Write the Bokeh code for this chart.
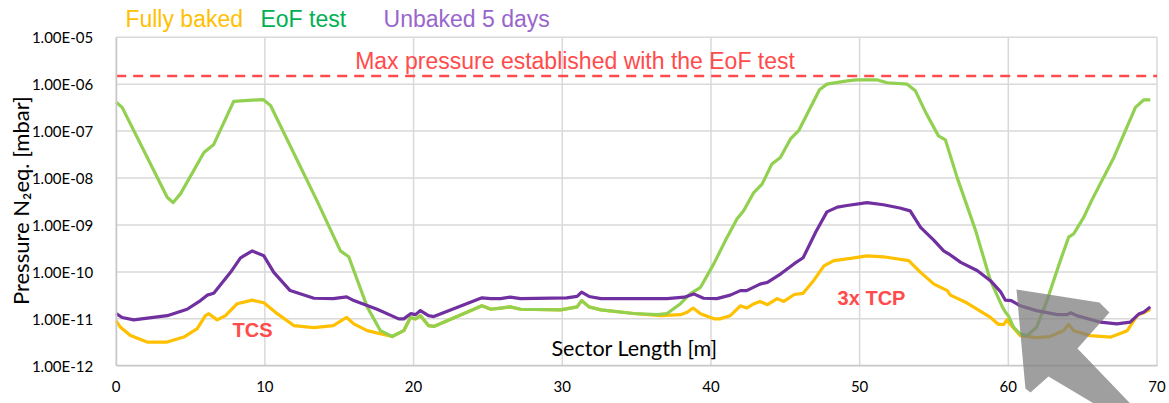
import math
from bokeh.plotting import figure
from bokeh.models import (FixedTicker, CustomJSTickFormatter, Label, PolyAnnotation, Range1d)
from bokeh.embed import file_html
from bokeh.resources import INLINE

# ---------------- data ----------------
series_names = ["Fully baked", "EoF test", "Unbaked 5 days"]

eof_x = [0.0, 0.4, 3.43, 3.83, 4.32, 5.9, 6.56, 7.9, 9.88, 10.38, 13.5, 15.08, 15.64,
         16.88, 17.77, 18.56, 19.34, 19.79, 20.13, 20.46, 21.0, 21.36, 24.6, 25.2,
         25.85, 26.5, 27.2, 29.9, 31.0, 31.3, 31.8, 32.6, 34.8, 36.4, 37.05, 37.95,
         38.6, 39.3, 40.2, 40.98, 41.76, 42.2, 42.88, 43.44, 44.1, 44.67, 45.35, 45.9,
         47.3, 47.8, 49.16, 49.8, 51.2, 51.85, 53.2, 53.75, 54.5, 55.3, 55.77, 56.56,
         57.1, 57.8, 58.8, 59.6, 59.8, 60.0, 60.36, 60.8, 61.26, 61.9, 62.6, 63.5,
         64.06, 64.4, 65.07, 65.6, 67.1, 68.55, 69.1, 69.55]
eof_p = [4.1e-7, 3.2e-7, 3.9e-9, 3.0e-9, 4.6e-9, 3.5e-8, 5.2e-8, 4.3e-7, 4.7e-7, 3.5e-7,
         3.3e-9, 2.8e-10, 2.1e-10, 1.8e-11, 5.6e-12, 4.2e-12, 5.6e-12, 1.07e-11, 1.0e-11,
         1.17e-11, 7.2e-12, 6.9e-12, 1.9e-11, 1.6e-11, 1.7e-11, 1.8e-11, 1.6e-11,
         1.55e-11, 1.8e-11, 2.45e-11, 1.8e-11, 1.55e-11, 1.3e-11, 1.23e-11, 1.3e-11,
         2.1e-11, 3.4e-11, 4.7e-11, 1.5e-10, 4.7e-10, 1.35e-9, 2.0e-9, 4.9e-9, 7.4e-9,
         2.0e-8, 2.75e-8, 6.8e-8, 1.02e-7, 7.6e-7, 1.0e-6, 1.17e-6, 1.23e-6, 1.23e-6,
         1.07e-6, 1.0e-6, 7.2e-7, 2.3e-7, 7.9e-8, 6.5e-8, 1.02e-8, 3.3e-9, 7.6e-10,
         6.5e-11, 1.8e-11, 1.4e-11, 1.17e-11, 6.6e-12, 4.8e-12, 4.4e-12, 6.6e-12,
         2.45e-11, 1.74e-10, 5.5e-10, 6.5e-10, 1.45e-9, 3.3e-9, 2.75e-8, 3.2e-7,
         4.6e-7, 4.6e-7]

unbaked_x = [0.0, 0.4, 1.18, 3.43, 4.77, 5.67, 6.12, 6.56, 7.69, 8.36, 9.15, 9.93, 10.6,
             11.7, 13.3, 14.6, 15.5, 15.98, 17.55, 19.0, 19.34, 19.8, 20.13, 20.46,
             21.0, 21.36, 24.6, 25.2, 25.85, 26.5, 27.2, 30.3, 31.0, 31.3, 31.8, 32.6,
             37.05, 38.2, 38.84, 39.5, 40.4, 41.3, 41.98, 42.4, 43.3, 43.8, 44.7, 45.6,
             46.2, 47.05, 47.8, 48.5, 49.16, 50.5, 51.6, 52.7, 53.4, 54.1, 55.0, 55.65,
             56.1, 56.8, 57.9, 58.8, 59.5, 59.8, 60.2, 60.8, 61.9, 63.3, 63.95, 64.2,
             64.6, 66.2, 67.3, 68.2, 68.8, 69.1, 69.55]
unbaked_p = [1.29e-11, 1.07e-11, 9.5e-12, 1.17e-11, 1.6e-11, 2.45e-11, 3.2e-11, 3.5e-11,
             9.8e-11, 2.0e-10, 2.8e-10, 2.2e-10, 9.8e-11, 4.0e-11, 2.75e-11, 2.7e-11,
             2.95e-11, 2.45e-11, 1.6e-11, 1.0e-11, 1.0e-11, 1.29e-11, 1.23e-11, 1.5e-11,
             1.17e-11, 1.12e-11, 2.8e-11, 2.7e-11, 2.7e-11, 2.9e-11, 2.7e-11, 2.8e-11,
             3.0e-11, 3.7e-11, 3.0e-11, 2.7e-11, 2.7e-11, 2.9e-11, 3.4e-11, 2.75e-11,
             2.7e-11, 3.2e-11, 4.0e-11, 4.0e-11, 5.5e-11, 6.0e-11, 9.1e-11, 1.5e-10,
             2.0e-10, 7.1e-10, 1.9e-9, 2.4e-9, 2.6e-9, 3.0e-9, 2.7e-9, 2.3e-9, 2.0e-9,
             8.9e-10, 4.7e-10, 2.8e-10, 2.3e-10, 1.6e-10, 1.07e-10, 6.5e-11, 3.7e-11,
             2.5e-11, 2.45e-11, 1.9e-11, 1.5e-11, 1.23e-11, 1.23e-11, 1.35e-11, 1.17e-11,
             8.5e-12, 7.8e-12, 8.5e-12, 1.29e-11, 1.38e-11, 1.8e-11]

baked_x = [0.0, 0.29, 0.96, 2.08, 3.43, 4.55, 5.45, 6.0, 6.23, 6.79, 7.35, 8.14, 9.15,
           9.93, 10.83, 11.94, 13.3, 14.6, 15.5, 15.98, 16.88, 18.56, 19.34, 19.79,
           20.13, 20.46, 21.0, 21.36, 24.6, 25.2, 25.85, 26.5, 27.2, 29.9, 31.0, 31.3,
           31.8, 32.6, 34.8, 36.6, 37.95, 38.4, 38.8, 39.3, 40.2, 40.6, 41.3, 41.98,
           42.4, 42.9, 43.3, 43.8, 44.45, 44.9, 45.6, 46.2, 46.9, 47.6, 48.26, 49.4,
           50.5, 51.6, 53.3, 54.1, 55.0, 55.9, 56.1, 57.2, 58.8, 59.35, 59.7, 59.9,
           60.2, 60.8, 61.9, 62.8, 63.7, 64.06, 64.4, 65.5, 66.9, 68.0, 68.66, 69.1, 69.55]
baked_p = [9.1e-12, 6.6e-12, 4.4e-12, 3.2e-12, 3.2e-12, 4.1e-12, 6.2e-12, 1.17e-11,
           1.29e-11, 9.5e-12, 1.17e-11, 2.1e-11, 2.5e-11, 2.2e-11, 1.29e-11, 7.2e-12,
           6.5e-12, 7.2e-12, 1.07e-11, 7.8e-12, 5.6e-12, 4.2e-12, 5.6e-12, 1.07e-11,
           1.0e-11, 1.17e-11, 7.2e-12, 6.9e-12, 1.9e-11, 1.6e-11, 1.7e-11, 1.8e-11,
           1.6e-11, 1.55e-11, 1.8e-11, 2.45e-11, 1.8e-11, 1.55e-11, 1.3e-11, 1.17e-11,
           1.23e-11, 1.38e-11, 1.7e-11, 1.29e-11, 1.0e-11, 1.0e-11, 1.17e-11, 1.9e-11,
           1.7e-11, 2.1e-11, 2.35e-11, 2.0e-11, 2.7e-11, 2.35e-11, 3.3e-11, 3.5e-11,
           6.5e-11, 1.35e-10, 1.74e-10, 1.95e-10, 2.2e-10, 2.1e-10, 1.74e-10, 9.8e-11,
           5.5e-11, 4.0e-11, 3.2e-11, 2.2e-11, 1.07e-11, 7.6e-12, 7.6e-12, 9.5e-12,
           7.2e-12, 4.4e-12, 4.0e-12, 4.2e-12, 5.6e-12, 7.6e-12, 5.6e-12, 4.4e-12,
           4.1e-12, 5.6e-12, 1.17e-11, 1.35e-11, 1.6e-11]

max_pressure = 1.5e-6
x_ticks = [0, 10, 20, 30, 40, 50, 60, 70]
y_ticks = [1e-12, 1e-11, 1e-10, 1e-9, 1e-8, 1e-7, 1e-6, 1e-5]
max_label = "Max pressure established with the EoF test"
x_title = "Sector Length [m]"
y_title = "Pressure N\u2082eq. [mbar]"
annotations = ["TCS", "3x TCP"]

# decorative grey pointer arrow (x in m, y in mbar)
arrow_x = [60.55, 61.15, 61.49, 62.70, 66.8, 68.8, 64.65, 66.80, 66.13]
arrow_y = [4.2e-11, 3.3e-13, 2.7e-13, 5.9e-13, 1.0e-13, 1.0e-13, 2.33e-12, 1.36e-11, 2.22e-11]

# ---------------- styling ----------------
YELLOW = "#FFC000"
GREEN = "#92D050"
PURPLE = "#7030A0"
RED = "#FF4B4B"
GRID = "#D9D9D9"
CAL = "Lato"
ARIAL = "Liberation Sans"

W, H = 1169, 403
# plot area (pixels) inside the canvas
PL, PR, PT, PB = 115.7, 1156.5, 36.7, 365.3
xs_per_px = (x_ticks[-1] - x_ticks[0]) / (PR - PL)
dec_per_px = (math.log10(y_ticks[-1]) - math.log10(y_ticks[0])) / (PB - PT)
x0 = x_ticks[0] - PL * xs_per_px
x1 = x_ticks[-1] + (W - PR) * xs_per_px
ly_top = math.log10(y_ticks[-1]) + PT * dec_per_px
ly_bot = math.log10(y_ticks[0]) - (H - PB) * dec_per_px

p = figure(width=W, height=H, y_axis_type="log",
           x_range=Range1d(x0, x1), y_range=Range1d(10 ** ly_bot, 10 ** ly_top),
           output_backend="svg", toolbar_location=None,
           min_border_left=0, min_border_right=0, min_border_top=0, min_border_bottom=0)
p.title.visible = False
p.background_fill_color = "white"
p.border_fill_color = "white"
p.outline_line_color = None
p.xgrid.visible = False
p.ygrid.visible = False

p.xaxis.ticker = FixedTicker(ticks=x_ticks)
p.yaxis.ticker = FixedTicker(ticks=y_ticks)
p.yaxis.formatter = CustomJSTickFormatter(code="""
const s = tick.toExponential(2).toUpperCase();
return s.replace(/E([+-])(\\d)$/, "E$10$2");
""")
p.xaxis.fixed_location = y_ticks[0]
p.yaxis.fixed_location = x_ticks[0]
p.xaxis.bounds = (x_ticks[0], x_ticks[-1])
p.yaxis.bounds = (y_ticks[0], y_ticks[-1])
for ax in (p.xaxis, p.yaxis):
    ax.axis_line_color = "#C8C8C8"
    ax.axis_line_width = 1.5
    ax.major_tick_line_color = None
    ax.minor_tick_line_color = None
    ax.major_tick_out = 0
    ax.major_tick_in = 0
    ax.major_label_text_font = CAL
    ax.major_label_text_font_size = "15px"
    ax.major_label_text_color = "#000000"
p.yaxis.major_label_standoff = 23
p.xaxis.major_label_standoff = 15

# grid lines limited to the plot area
n = len(x_ticks)
m = len(y_ticks)
p.segment(x0=x_ticks, y0=[y_ticks[0]] * n, x1=x_ticks, y1=[y_ticks[-1]] * n,
          line_color=GRID, line_width=1.5)
p.segment(x0=[x_ticks[0]] * m, y0=y_ticks, x1=[x_ticks[-1]] * m, y1=y_ticks,
          line_color=GRID, line_width=1.5)

p.line(baked_x, baked_p, line_color=YELLOW, line_width=3.2, line_join="round")
p.line(eof_x, eof_p, line_color=GREEN, line_width=3.2, line_join="round")
p.line(unbaked_x, unbaked_p, line_color=PURPLE, line_width=3.2, line_join="round")

p.line([x_ticks[0], x_ticks[-1]], [max_pressure, max_pressure], line_color=RED,
       line_width=2.5, line_dash="10 7")

p.add_layout(Label(x=30.86, y=3.08e-6, text=max_label, text_color=RED,
                   text_font=ARIAL, text_font_size="23px", text_align="center",
                   text_baseline="middle"))
p.add_layout(Label(x=9.17, y=5.65e-12, text=annotations[0], text_color=RED,
                   text_font=ARIAL, text_font_size="20px", text_font_style="bold",
                   text_align="center", text_baseline="middle"))
p.add_layout(Label(x=50.8, y=2.85e-11, text=annotations[1], text_color=RED,
                   text_font=ARIAL, text_font_size="20px", text_font_style="bold",
                   text_align="center", text_baseline="middle"))
p.add_layout(Label(x=34.86, y=2.34e-12, text=x_title, text_color="#000000",
                   text_font=CAL, text_font_size="21.5px", text_align="center",
                   text_baseline="middle"))
p.add_layout(Label(x=-6.45, y=3.3e-9, text=y_title, text_color="#000000",
                   text_font=CAL, text_font_size="22px", text_align="center",
                   text_baseline="middle", angle=math.pi / 2))

legend_colors = [YELLOW, "#00B050", "#9966CC"]
legend_x = [0.62, 9.70, 17.98]
for name, col, lx in zip(series_names, legend_colors, legend_x):
    p.add_layout(Label(x=lx, y=2.5e-5, text=name, text_color=col, text_font=ARIAL,
                       text_font_size="23px", text_align="left", text_baseline="middle"))

p.add_layout(PolyAnnotation(xs=arrow_x, ys=arrow_y, fill_color="#7F7F7F",
                            fill_alpha=0.75, line_color=None))

open("out.html", "w").write(file_html(p, INLINE))
